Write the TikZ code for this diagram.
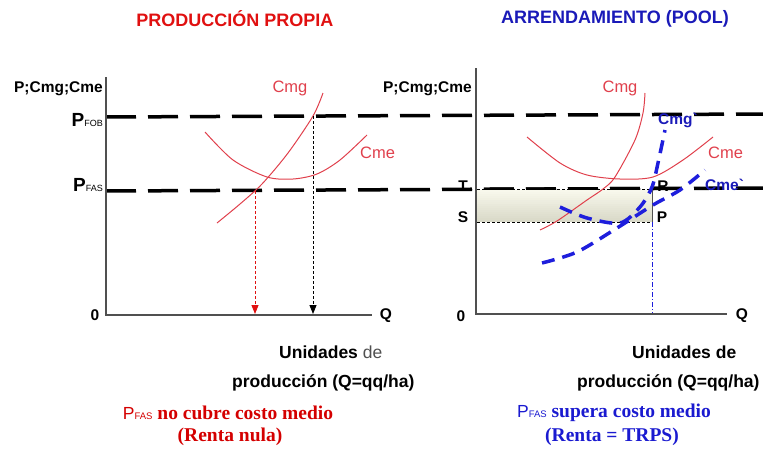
\documentclass[tikz,border=0pt]{standalone}
\usepackage{fontspec}
\setmainfont{Liberation Sans}
\newfontfamily\srfb{Liberation Serif}
\usetikzlibrary{arrows.meta}
\definecolor{tred}{HTML}{E01010}
\definecolor{tblue}{HTML}{1A1AB8}
\definecolor{bred}{HTML}{D40000}
\definecolor{bblue}{HTML}{1A1AD0}
\definecolor{cred}{HTML}{E0404C}
\definecolor{cblue}{HTML}{1E1EDC}
\definecolor{axgray}{HTML}{505050}
\definecolor{rtop}{HTML}{F8F8EC}
\definecolor{rbot}{HTML}{D9D9C8}
\newcommand\fsTitle{\fontsize{18}{21}\selectfont\bfseries}
\newcommand\fsAx{\fontsize{15.5}{18}\selectfont\bfseries}
\newcommand\fsCur{\fontsize{16.5}{19}\selectfont}
\newcommand\fsUnit{\fontsize{17.5}{20}\selectfont\bfseries}
\newcommand\fsBot{\fontsize{19.5}{22}\selectfont\srfb\bfseries}
\newcommand\bigP{{\fontsize{19}{21}\selectfont\bfseries P}}
\newcommand\smallsub[1]{{\fontsize{9}{10}\selectfont\mdseries #1}}
\newcommand\botP{{\fontsize{17.5}{20}\selectfont\mdseries\rmfamily P}{\fontsize{9.5}{10}\selectfont\mdseries\rmfamily FAS}}
\begin{document}
\begin{tikzpicture}[x=1pt,y=-1pt,
  axis/.style={line width=1.3pt, draw=axgray},
  pline/.style={line width=3.5pt, dash pattern=on 30pt off 12pt},
  redcurve/.style={cred, line width=1pt},
  bluecurve/.style={cblue, line width=3.5pt, dash pattern=on 13pt off 8pt},
  drop/.style={line width=0.9pt, dash pattern=on 3pt off 2pt, -{Triangle[length=9pt,width=7pt]}},
  thindash/.style={line width=0.8pt, dash pattern=on 3pt off 2pt},
  lab/.style={inner sep=0pt, font=\fsAx},
  clab/.style={inner sep=0pt, font=\fsCur, text=cred},
  blab/.style={inner sep=0pt, font=\fsAx, text=tblue},
  txt/.style={inner sep=0pt}
]
\useasboundingbox (0,0) rectangle (763,450);

% ---------- coordinates ----------
\coordinate (LO) at (106,315);
\coordinate (LY) at (106,77);
\coordinate (LX) at (372,315);
\coordinate (RO) at (476,314);
\coordinate (RY) at (476,68);
\coordinate (RX) at (727,314);
\coordinate (FOBa) at (106,117);
\coordinate (FOBb) at (763,114);
\coordinate (FASa) at (106,191);
\coordinate (FASb) at (763,188);
\coordinate (Ea) at (255,191);
\coordinate (Eb) at (255,314);
\coordinate (Fa) at (313,116);
\coordinate (Fb) at (313,314);
\coordinate (T0) at (477,189.5);
\coordinate (RR) at (652,189.5);
\coordinate (SS) at (477,222);
\coordinate (PP) at (652,222);
\coordinate (PB) at (652,314);

% ---------- titles ----------
\node[txt, font=\fsTitle, text=tred] (t1) at (235,19) {PRODUCCIÓN PROPIA};
\node[txt, font=\fsTitle, text=tblue] (t2) at (615,19) {ARRENDAMIENTO (POOL)};

% ---------- price lines ----------
\draw[pline] (FOBa) -- (FOBb);
\draw[pline] (FASa) -- (FASb);

% ---------- rent rectangle (vertical gradient, light at top) ----------
\foreach \i in {0,...,15} {
  \pgfmathsetmacro{\ya}{189.5+\i*2.03125}
  \pgfmathsetmacro{\yb}{189.5+(\i+1)*2.03125+0.3}
  \pgfmathtruncatemacro{\pc}{100-\i*100/15}
  \fill[rtop!\pc!rbot] (477,\ya) rectangle (652,\yb);
}
\begin{scope}
  \clip (470,150) rectangle (660,189.5);
  \draw[pline] (FASa) -- (FASb);
\end{scope}
\draw[thindash] (T0) -- (RR);
\draw[thindash] (SS) -- (PP);
\draw[line width=0.8pt, draw=axgray] (RR) -- (PP);
\draw[cblue, line width=0.8pt, dash pattern=on 5pt off 2pt on 1pt off 2pt] (PP) -- (PB);

% ---------- axes ----------
\draw[axis] (LY) -- (LO) -- (LX);
\draw[axis] (RY) -- (RO) -- (RX);

% ---------- left curves ----------
\draw[redcurve] plot[smooth] coordinates {(217,223) (240,204) (262,184) (288,153) (313,116) (323,93)};
\draw[redcurve] plot[smooth] coordinates {(205,132) (233,160) (267,177) (293,179) (317,174) (340,160) (367,135)};
\draw[drop, tred] (Ea) -- (Eb);
\draw[drop, black] (Fa) -- (Fb);

% ---------- right curves ----------
\draw[redcurve] plot[smooth] coordinates {(540,230) (557,221) (587,200) (603,189) (615,177) (635,140) (643,113) (645,93)};
\draw[redcurve] plot[smooth] coordinates {(527,137) (560,163) (587,175) (620,179) (653,177) (683,160) (713,137)};
\draw[bluecurve] plot[smooth] coordinates {(560,207) (587,218) (620,223) (640,207) (652,187) (658,163) (665,130)};
\draw[bluecurve] plot[smooth] coordinates {(542,263) (577,252) (617,228) (653,205) (680,190) (705,170)};

% ---------- axis labels ----------
\node[lab, anchor=east] (ly) at (103,89) {P;Cmg;Cme};
\node[lab, anchor=east] (ry) at (472,89) {P;Cmg;Cme};
\node[txt, anchor=base east] (pfob) at (103,126) {\bigP\smallsub{FOB}};
\node[txt, anchor=base east] (pfas) at (103,191) {\bigP\smallsub{FAS}};
\node[lab] (l0) at (95,315) {0};
\node[lab] (r0) at (461,316) {0};
\node[lab] (lq) at (386,316) {Q};
\node[lab] (rq) at (742,316) {Q};
\node[lab] (tT) at (463,186) {T};
\node[lab] (tS) at (463,217) {S};
\node[lab] (tR) at (663,186) {R};
\node[lab] (tP) at (662,217) {P};

% ---------- curve labels ----------
\node[clab] (lcmg) at (290,88) {Cmg};
\node[clab, anchor=west] (lcme) at (360,153) {Cme};
\node[clab] (rcmg) at (620,88) {Cmg};
\node[clab, anchor=west] (rcme) at (708,153) {Cme};
\node[blab, anchor=west] (bcmg) at (658,120) {Cmg\textasciigrave};
\node[blab, anchor=west] (bcme) at (705,185) {Cme\textasciigrave};

% ---------- bottom texts ----------
\node[txt, anchor=west, font=\fsUnit] (lu1) at (279,352) {Unidades {\mdseries\color{axgray}de}};
\node[txt, anchor=west, font=\fsUnit] (lu2) at (232,383) {producción (Q=qq/ha)};
\node[txt, anchor=west, font=\fsUnit] (ru1) at (632,352) {Unidades de};
\node[txt, anchor=west, font=\fsUnit] (ru2) at (577,383) {producción (Q=qq/ha)};
\node[txt, font=\fsBot, text=bred] (lb1) at (228,413) {\botP\ no cubre costo medio};
\node[txt, font=\fsBot, text=bred] (lb2) at (230,437) {(Renta nula)};
\node[txt, font=\fsBot, text=bblue] (rb1) at (614,413) {\botP\ supera costo medio};
\node[txt, font=\fsBot, text=bblue] (rb2) at (612,437) {(Renta = TRPS)};
\end{tikzpicture}
\end{document}
